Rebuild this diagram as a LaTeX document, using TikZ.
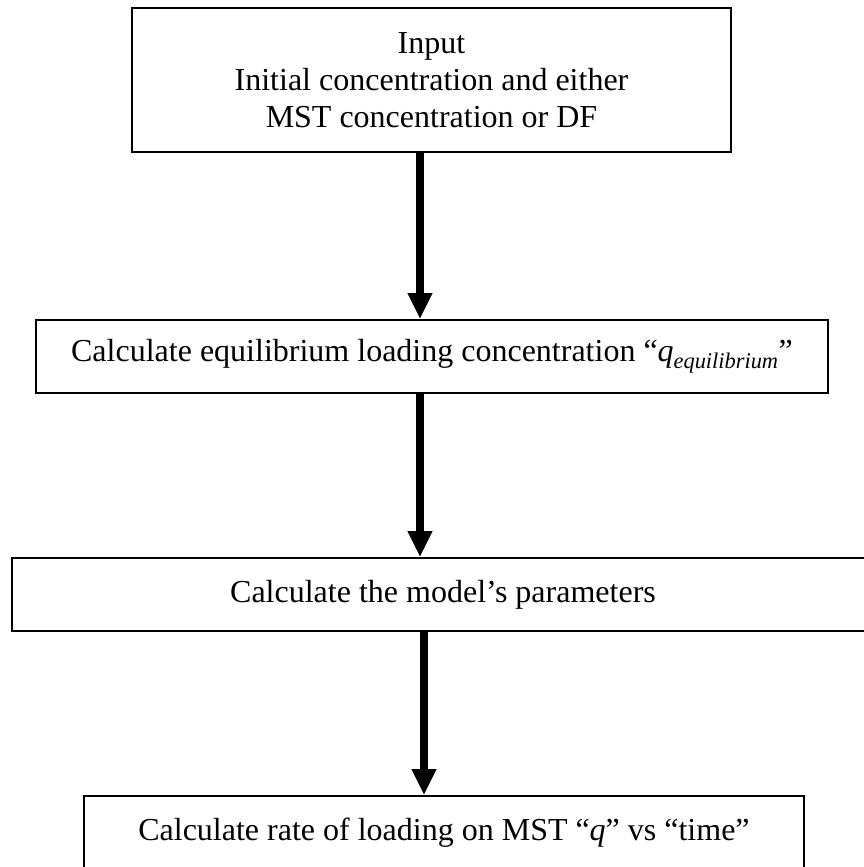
\documentclass[tikz,border=0pt]{standalone}
\usepackage{fontspec}
\setmainfont{Liberation Serif}
\usetikzlibrary{arrows.meta}

\begin{document}
\begin{tikzpicture}[x=1bp,y=-1bp,
  font=\fontsize{32bp}{37bp}\selectfont,
  flowbox/.style={draw,line width=1.6bp,inner sep=0pt,align=center},
  flowarrow/.style={line width=8bp,-{Triangle[width=23bp,length=26bp]}}]

\clip (0,0) rectangle (864,867);

% Boxes
\node[flowbox,minimum width=599bp,minimum height=144bp] (input) at (431.5,80)
  {Input\\Initial concentration and either\\MST concentration or DF};
\node[flowbox,minimum width=792bp,minimum height=73bp] (equil) at (432,356.5)
  {Calculate equilibrium loading concentration “\textit{q}\textsubscript{\textit{equilibrium}}”};
\node[flowbox,minimum width=862bp,minimum height=73bp] (param) at (443,594.5)
  {Calculate the model’s parameters};
\node[flowbox,minimum width=720bp,minimum height=73bp] (rate) at (444,832.5)
  {Calculate rate of loading on MST “\textit{q}” vs “time”};

% Arrows
\coordinate (spineA) at (420,0);
\coordinate (spineB) at (424,0);
\draw[flowarrow] (input.south -| spineA) -- (equil.north -| spineA);
\draw[flowarrow] (equil.south -| spineA) -- (param.north -| spineA);
\draw[flowarrow] (param.south -| spineB) -- (rate.north -| spineB);

\end{tikzpicture}
\end{document}
